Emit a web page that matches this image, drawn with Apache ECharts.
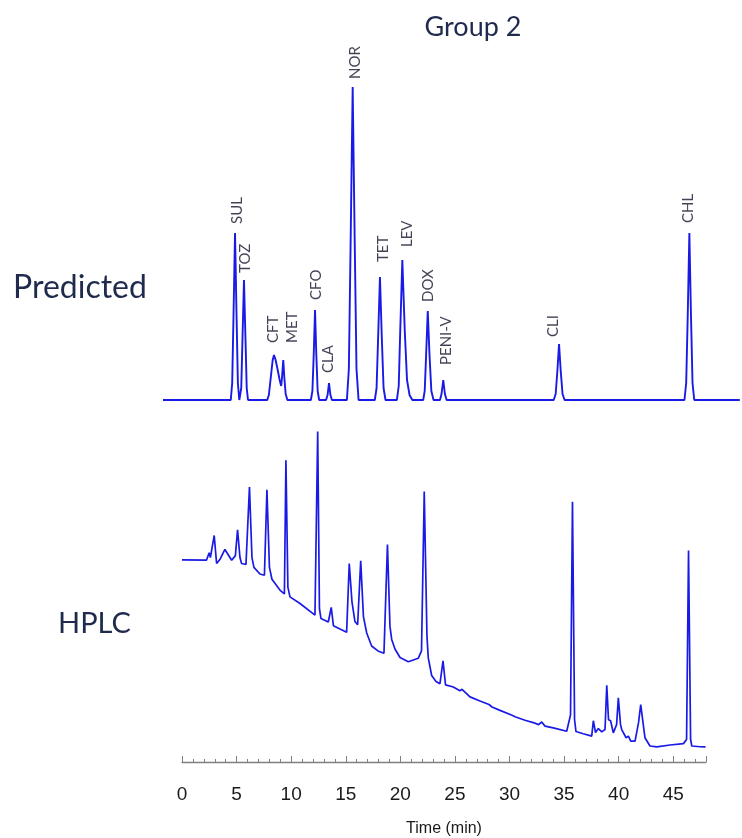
<!DOCTYPE html>
<html>
<head>
<meta charset="utf-8">
<script src="https://cdn.jsdelivr.net/npm/echarts@6/dist/echarts.min.js"></script>
<style>
html,body{margin:0;padding:0;background:#fff;}
#chart{width:742px;height:838px;}
</style>
</head>
<body>
<div id="chart"></div>
<script>
// ---------- DATA ----------
// Predicted chromatogram: [time (min), signal]
const predictedPoints = [
  [-1.75,0],
  [4.46,0],[4.59,17],[4.71,84],[4.85,167],[4.99,84],[5.11,17],[5.24,0],
  [5.30,0],[5.42,12],[5.53,60],[5.67,120],[5.81,60],[5.92,12],[6.04,0],
  [7.80,0],[7.95,5],[8.12,22],[8.30,40],[8.42,45],[8.57,40],[8.76,30],[8.94,20],[9.08,14],[9.15,22],[9.27,40],[9.37,22],[9.49,6],[9.65,0],
  [11.80,0],[11.94,9],[12.06,45],[12.18,90],[12.30,45],[12.42,9],[12.56,0],
  [13.19,0],[13.33,5],[13.46,17],[13.59,5],[13.73,0],
  [15.10,0],[15.28,31],[15.44,156],[15.63,313],[15.82,156],[15.98,31],[16.17,0],
  [17.66,0],[17.82,12],[17.96,62],[18.13,123],[18.30,62],[18.46,12],[18.64,0],
  [19.68,0],[19.85,14],[19.99,70],[20.18,140],[20.40,70],[20.61,20],[20.84,5],[21.10,0],
  [22.09,0],[22.23,9],[22.36,45],[22.51,89],[22.67,45],[22.84,9],[23.04,0],
  [23.63,0],[23.77,6],[23.93,20],[24.08,6],[24.24,0],
  [34.05,0],[34.23,6],[34.38,28],[34.54,56],[34.70,28],[34.86,6],[35.05,0],
  [46.03,0],[46.19,17],[46.33,84],[46.48,167],[46.63,84],[46.77,17],[46.93,0],
  [51.10,0]
];
// Peak annotations of the predicted trace
const peakNames   = ['SUL','TOZ','CFT','MET','CFO','CLA','NOR','TET','LEV','DOX','PENI-V','CLI','CHL'];
const peakTimes   = [4.85,5.67,8.42,9.27,12.18,13.46,15.63,18.13,20.18,22.51,23.93,34.54,46.48];
const peakHeights = [167,120,45,40,90,17,313,123,140,89,20,56,167];

// Measured HPLC chromatogram: [time (min), signal]
const hplcPoints = [
  [0.00,205.7],[2.25,205.5],[2.49,213],[2.60,208],[2.95,230.5],[3.17,202],[3.47,206],[3.93,216.3],
  [4.55,205.3],[4.89,210],[5.09,236.3],[5.31,208],[5.46,202],[5.86,201],[6.18,279.7],[6.41,208],
  [6.59,198],[7.14,191.3],[7.55,190],[7.78,277],[8.01,198],[8.24,186],[8.97,175],[9.38,171],
  [9.52,307],[9.70,178],[9.89,168],[10.81,161.3],[12.18,149.5],[12.43,336.3],[12.59,156],[12.73,146],
  [13.40,142.5],[13.67,157.3],[13.87,138.7],[15.08,132],[15.32,202],[15.57,163],[15.84,143],[16.09,139.7],
  [16.37,204.7],[16.62,148],[16.92,131.3],[17.37,118],[17.95,113],[18.50,110.7],[18.82,221.3],[19.05,138],
  [19.21,124.7],[19.51,115],[19.97,106.3],[20.73,102],[21.64,105.5],[21.94,113],[22.19,275.3],[22.44,128],
  [22.56,106],[22.87,88],[23.27,82],[23.63,79.7],[23.91,103],[24.14,78.5],[24.85,76.3],[25.46,72.5],
  [25.65,74],[26.38,66.3],[27.30,62],[28.12,58.5],[28.21,60],[28.40,56],[29.13,52.5],[30.23,47.5],
  [30.37,49],[30.51,46],[31.42,42.5],[32.34,39.5],[32.48,41.5],[32.66,38],[32.95,40.7],[33.25,36.5],
  [34.01,34.7],[35.24,31.3],[35.59,48],[35.77,264.7],[35.96,43],[36.09,31],[36.76,28.7],[37.53,26.3],
  [37.68,42],[37.88,30],[38.14,34],[38.45,30.7],[38.75,33],[38.91,78],[39.07,43],[39.26,42],
  [39.51,29.7],[39.81,38],[39.97,65.3],[40.17,38],[40.28,33],[40.68,24.7],[40.89,26.3],[41.11,21.3],
  [41.50,21.3],[41.82,40],[42.02,58.5],[42.23,40],[42.41,24.7],[42.87,16.3],[43.49,15.3],[44.71,17.3],
  [45.93,18.7],[46.22,23],[46.40,215.3],[46.59,23],[46.70,16.3],[47.46,15.5],[47.96,15.3]
];

// Axis
const timeMin = 0, timeMax = 48, timeMajorStep = 5, timeMinorStep = 1;
const predictedTimeRange = [-1.75, 51.12]; // span of the predicted panel
const axisName = 'Time (min)';
const chartTitle = 'Group 2';
const panelNames = ['Predicted', 'HPLC'];

// ---------- STYLE ----------
const traceColor = '#1a1ae6';
const textNavy = '#1f2a4d';
// screen nudges [dx right, dy down] in px of the rotated peak labels
const labelShift = {
  'SUL':[2,1],'TOZ':[1,3],'CFT':[-1,-2],'MET':[9,-7],'CFO':[1,0],'CLA':[-1,0],
  'NOR':[2,2],'TET':[3,-5],'LEV':[5,-3],'DOX':[0,1],'PENI-V':[3,-5],'CLI':[-6,3],'CHL':[-1,0]
};

// label offset is expressed in the rotated (90deg) frame: [up, right]
const peakData = peakNames.map((n,i)=>{
  const s = labelShift[n] || [0,0];
  return {value:[peakTimes[i], peakHeights[i]], name:n, label:{offset:[-s[1], s[0]]}};
});

const chart = echarts.init(document.getElementById('chart'), null, {renderer:'canvas'});
chart.setOption({
  animation:false,
  backgroundColor:'#ffffff',
  grid:[
    {left:163, width:577, top:80, height:320},
    {left:182, width:524, top:420, height:348}
  ],
  xAxis:[
    {gridIndex:0, type:'value', min:predictedTimeRange[0], max:predictedTimeRange[1], show:false},
    {gridIndex:1, type:'value', min:timeMin, max:timeMax, interval:timeMajorStep, position:'bottom',
     axisLine:{show:true, lineStyle:{color:'#7f7f7f', width:1.3}},
     axisTick:{show:true, inside:true, length:6, lineStyle:{color:'#7f7f7f', width:1}},
     axisLabel:{show:true, margin:23, fontSize:19, color:'#1a1a1a', fontFamily:'Liberation Sans, Arial, sans-serif',
       formatter:v=> (v % timeMajorStep === 0 ? String(v) : '')},
     splitLine:{show:false},
     name:axisName, nameLocation:'middle', nameGap:59,
     nameTextStyle:{fontSize:16, color:'#1a1a1a', fontFamily:'Liberation Sans, Arial, sans-serif'}
    },
    {gridIndex:1, type:'value', min:timeMin, max:timeMax, interval:timeMinorStep, position:'bottom', offset:0,
     axisLine:{show:false},
     axisTick:{show:true, inside:true, length:3, lineStyle:{color:'#7f7f7f', width:1}},
     axisLabel:{show:false}, splitLine:{show:false}
    }
  ],
  yAxis:[
    {gridIndex:0, type:'value', min:0, max:320, show:false},
    {gridIndex:1, type:'value', min:0, max:348, show:false}
  ],
  graphic:[
    {type:'text', style:{text:chartTitle, x:473, y:27, textAlign:'center', textVerticalAlign:'middle',
      font:'27px Lato, "Open Sans", sans-serif', fill:textNavy}},
    {type:'text', style:{text:panelNames[0], x:13, y:288, textAlign:'left', textVerticalAlign:'middle',
      font:'32px Lato, "Open Sans", sans-serif', fill:textNavy}},
    {type:'text', style:{text:panelNames[1], x:58, y:624, textAlign:'left', textVerticalAlign:'middle',
      font:'29px Lato, "Open Sans", sans-serif', fill:textNavy}}
  ],
  series:[
    {type:'line', xAxisIndex:0, yAxisIndex:0, data:predictedPoints, showSymbol:false, symbol:'none',
     lineStyle:{color:traceColor, width:1.9}, z:3},
    {type:'scatter', xAxisIndex:0, yAxisIndex:0, data:peakData, symbolSize:0,
     label:{show:true, formatter:p=>p.name, position:'top', distance:10, rotate:90, align:'left',
       verticalAlign:'middle', fontSize:15, color:'#12142a', fontFamily:'Lato, "Open Sans", sans-serif'}},
    {type:'line', xAxisIndex:1, yAxisIndex:1, data:hplcPoints, showSymbol:false, symbol:'none',
     lineStyle:{color:traceColor, width:1.7}, z:3}
  ]
});
</script>
</body>
</html>
